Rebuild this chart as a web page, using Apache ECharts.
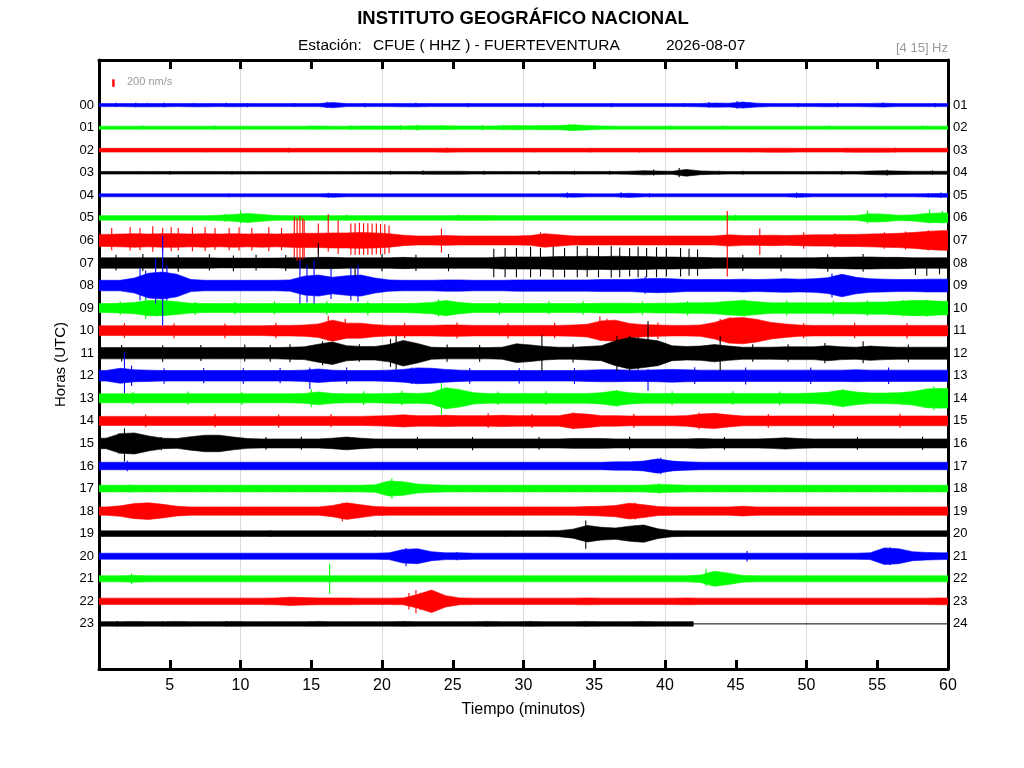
<!DOCTYPE html>
<html><head><meta charset="utf-8">
<script src="https://cdn.jsdelivr.net/npm/echarts@6/dist/echarts.min.js"></script>
<style>html,body{margin:0;padding:0;background:#fff}#c{width:1024px;height:768px}</style>
</head><body><div id="c"></div>
<script>
// ---------- labels ----------
const xTickLabels = ['', '5', '10', '15', '20', '25', '30', '35', '40', '45', '50', '55', '60'];
const hourLabels = ['00','01','02','03','04','05','06','07','08','09','10','11','12','13','14','15','16','17','18','19','20','21','22','23'];
const rightLabels = ['01','02','03','04','05','06','07','08','09','10','11','12','13','14','15','16','17','18','19','20','21','22','23','24'];
const scaleBarNms = 200;      // legend bar value (nm/s)
const rowSpanNms = 600;       // amplitude equal to one row spacing (nm/s)

// ---------- per-minute envelope (half amplitude, nm/s), one array per hour ----------
const env00 = [40,40,45,45,45,40,45,45,40,45, 40,40,40,40,40,40,70,40,40,40, 40,45,45,40,40,40,40,40,40,40, 40,40,40,40,40,40,40,40,40,40, 40,40,45,55,50,80,50,40,40,40, 40,45,40,40,45,50,40,40,40,40];
const env01 = [40,40,40,40,40,40,40,40,40,40, 40,40,40,40,40,45,40,40,45,45, 45,45,50,50,50,45,45,45,50,55, 50,55,55,75,60,45,40,40,40,40, 40,40,40,40,40,40,40,40,40,40, 40,40,40,40,40,40,40,40,40,40];
const env02 = [50,50,50,50,50,50,50,50,50,50, 50,50,50,50,50,50,50,50,50,50, 50,50,50,50,55,50,50,50,50,50, 50,50,50,50,50,50,50,50,50,50, 50,50,50,50,50,50,50,55,55,50, 50,50,50,55,55,55,50,50,50,50];
const env03 = [35,35,35,35,35,35,35,35,35,35, 35,35,35,35,35,35,35,35,35,35, 35,35,35,40,40,40,35,35,35,35, 35,35,35,35,35,35,35,40,55,45, 40,90,50,40,35,35,35,35,35,35, 35,35,35,35,45,55,45,40,40,40];
const env04 = [40,40,40,40,40,40,40,40,40,40, 40,40,40,40,40,40,50,40,40,40, 40,40,40,40,40,40,40,40,40,40, 40,40,40,50,40,40,40,55,40,40, 40,40,40,40,40,40,40,40,40,50, 40,40,40,40,40,40,40,40,45,50];
const env05 = [60,60,60,60,60,60,60,60,70,90, 120,90,65,60,60,60,60,60,60,60, 60,60,60,60,60,65,65,65,60,60, 60,60,60,60,60,60,60,60,60,60, 60,60,60,60,60,60,60,60,60,60, 60,60,60,65,110,100,70,80,120,130];
const env06 = [160,170,180,170,180,180,170,180,170,180, 170,180,170,180,190,190,200,200,210,200, 180,140,120,120,130,120,120,120,120,120, 130,180,150,120,120,120,120,120,120,120, 120,120,120,120,150,130,130,140,130,140, 150,150,160,160,170,180,190,210,240,260];
const env07 = [140,140,140,140,140,140,140,140,130,130, 130,130,130,140,140,150,150,140,140,140, 140,150,140,140,140,140,140,140,160,160, 160,160,170,170,180,170,180,170,170,160, 160,150,150,140,140,140,140,140,140,140, 140,150,150,160,160,150,150,140,140,140];
const env08 = [140,140,200,330,360,300,160,140,140,140, 140,140,140,150,250,280,220,260,280,200, 150,140,140,140,150,150,140,140,140,150, 150,150,150,150,150,160,160,160,180,190, 180,160,160,160,160,170,160,170,180,170, 180,210,300,220,180,170,160,160,170,170];
const env09 = [120,130,150,200,200,170,130,120,120,120, 120,120,120,120,120,120,120,120,120,120, 120,120,130,150,200,150,120,120,120,120, 120,120,120,120,120,130,130,130,120,130, 130,140,140,150,180,200,170,140,140,140, 140,140,150,150,160,160,180,200,200,180];
const env10 = [130,130,130,130,130,130,130,130,130,130, 130,130,140,140,150,180,280,200,200,160, 140,140,140,140,150,150,140,140,140,140, 140,140,140,150,170,260,280,190,160,150, 140,140,150,220,330,350,300,220,180,150, 140,140,140,140,140,140,140,140,140,140];
const env11 = [150,150,150,150,150,150,150,150,150,150, 150,150,150,160,170,240,300,200,180,180, 230,340,260,160,150,150,150,150,160,250, 220,180,160,160,180,200,330,420,380,330, 200,180,190,230,190,160,160,160,170,170, 170,200,170,160,190,170,160,160,160,160];
const env12 = [140,200,160,150,140,140,140,140,140,140, 140,140,140,140,150,180,150,140,140,140, 150,170,210,200,170,150,140,140,140,140, 140,140,140,140,150,160,160,150,150,160, 170,160,150,150,150,150,150,150,150,150, 150,150,150,160,150,150,150,150,150,150];
const env13 = [120,120,120,120,120,120,120,120,120,120, 120,120,120,120,130,170,130,120,120,120, 130,140,130,150,280,230,150,130,130,130, 130,130,130,130,130,150,200,150,130,130, 130,130,130,130,130,130,130,130,130,130, 140,160,220,170,140,140,150,180,250,260];
const env14 = [120,120,120,120,120,120,120,120,120,120, 120,120,120,120,120,120,120,120,120,130, 140,160,140,140,150,140,140,140,150,140, 140,140,140,200,180,140,140,130,130,130, 130,140,180,200,160,130,130,130,130,130, 130,130,130,130,130,130,130,130,130,130];
const env15 = [140,260,280,200,140,130,180,220,220,170, 130,120,120,120,120,120,140,170,140,120, 120,120,120,120,120,120,120,120,120,120, 120,120,120,130,130,130,120,120,120,120, 120,120,130,120,120,120,120,130,150,130, 120,120,120,120,120,120,120,120,120,120];
const env16 = [100,100,100,100,100,100,100,100,100,100, 100,100,100,100,100,100,100,100,100,100, 100,100,100,100,100,100,100,100,100,100, 100,100,100,100,100,100,110,110,130,190, 130,110,100,100,100,100,100,100,100,100, 100,100,100,100,100,100,100,100,100,100];
const env17 = [90,90,90,90,90,90,90,90,90,90, 90,90,90,90,90,90,90,90,90,100, 200,180,120,100,90,90,90,90,90,90, 90,90,90,90,90,90,90,90,90,110, 100,90,90,90,90,90,90,90,90,90, 90,90,90,90,90,90,90,90,90,90];
const env18 = [110,140,200,220,180,130,110,110,110,110, 110,110,110,110,110,110,150,220,170,120, 110,110,110,110,110,110,110,110,110,110, 110,110,110,110,120,130,150,210,170,120, 110,110,110,110,110,130,110,110,110,110, 110,110,110,110,110,110,110,110,110,110];
const env19 = [75,75,75,75,75,75,75,75,75,75, 75,75,75,75,75,75,75,75,75,75, 75,75,75,75,75,75,75,75,75,75, 75,75,80,120,220,170,150,200,230,130, 80,75,75,75,75,75,75,75,75,75, 75,75,75,75,75,75,75,75,75,75];
const env20 = [80,80,80,80,80,80,80,80,80,80, 80,80,80,80,80,80,80,80,80,80, 90,180,200,120,90,90,80,80,80,80, 80,80,80,80,80,80,80,80,80,80, 80,80,80,80,80,80,80,80,80,80, 80,80,80,80,90,220,200,120,100,90];
const env21 = [80,80,90,80,80,80,80,80,80,80, 80,80,80,80,80,80,80,80,80,80, 80,80,80,80,80,80,80,80,80,80, 80,80,80,80,80,80,80,80,80,80, 80,80,100,200,150,90,80,80,80,80, 80,80,80,80,80,80,80,80,80,80];
const env22 = [85,85,85,85,85,85,85,85,85,85, 85,85,90,110,100,90,90,90,85,85, 85,90,180,300,150,90,85,85,85,85, 85,85,85,85,90,85,85,85,85,85, 85,90,85,85,85,85,85,85,85,85, 85,85,85,85,85,85,85,85,85,90];
const env23 = [60,60,65,60,60,65,60,60,60,65, 60,60,60,60,60,65,60,60,60,60, 60,65,60,60,60,60,60,65,60,60, 65,60,60,60,65,60,60,60,65,60, 60,60];

// ---------- isolated spikes [minute, up nm/s, down nm/s] ----------
const spk00 = [[1.2,60,50],[2.6,60,60],[3.4,55,50],[4.6,60,60],[6.7,55,50],[9.0,60,50],[10.5,55,55],[13.8,55,50],[16.1,90,80],[18.8,55,55],[22.4,60,50],[26.1,55,55],[31.4,60,55],[36.2,55,55],[41.3,55,50],[43.1,80,70],[45.1,110,100],[46.0,70,60],[49.4,55,55],[52.2,60,55],[55.4,70,60],[59.1,55,55]];
const spk01 = [[3.1,55,50],[8.2,55,55],[14.9,60,50],[17.8,60,60],[21.3,70,70],[22.5,75,80],[24.2,65,60],[27.1,75,75],[28.6,80,70],[31.3,60,55],[33.2,100,90],[33.7,80,70],[40.4,60,55],[44.1,55,55],[51.6,55,55],[58.2,55,55]];
const spk02 = [[2.1,60,50],[7.6,60,55],[13.4,65,60],[19.9,60,60],[24.6,65,60],[30.8,60,55],[34.7,65,60],[38.2,60,60],[46.1,60,55],[52.8,65,60],[56.3,65,60]];
const spk03 = [[5.0,50,45],[9.4,50,45],[20.6,55,50],[22.9,60,50],[27.2,55,55],[31.1,60,55],[33.6,55,50],[36.1,55,55],[39.2,90,75],[41.0,130,120],[41.6,70,60],[43.8,55,50],[45.5,55,50],[52.5,55,50],[55.7,80,70],[58.9,60,55]];
const spk04 = [[9.2,55,50],[16.2,70,65],[33.1,75,70],[36.9,80,70],[38.9,55,50],[49.3,75,70],[55.6,60,55],[58.6,65,60],[59.5,75,70]];
const spk05 = [[8.9,110,100],[10.0,200,150],[17.5,90,80],[25.4,90,80],[45.0,90,80],[54.3,190,150],[55.1,120,110],[58.7,220,150],[59.6,180,140]];
const spk06 = [[0.9,330,260],[2.2,360,270],[2.9,330,260],[3.8,380,300],[4.5,340,280],[5.1,360,290],[5.6,330,270],[6.6,350,290],[7.5,360,280],[8.2,330,250],[9.2,330,260],[9.9,350,270],[10.8,330,270],[12.0,360,290],[12.9,330,260],[13.8,640,450],[14.0,600,540],[14.2,650,560],[14.4,590,500],[14.5,540,450],[15.5,450,360],[16.2,700,300],[16.9,540,360],[17.8,450,380],[18.1,460,380],[18.4,470,380],[18.7,460,380],[19.0,460,380],[19.3,450,380],[19.6,450,370],[19.9,440,380],[20.2,430,370],[20.5,400,340],[24.2,320,320],[31.2,220,180],[44.4,780,960],[46.7,320,380],[49.8,220,220],[52.0,190,190],[55.5,220,220],[57.0,240,240],[58.6,270,270]];
const spk07 = [[1.2,220,200],[3.1,240,210],[5.6,210,230],[7.8,230,200],[9.5,200,220],[11.1,220,200],[13.2,210,210],[15.5,540,90],[18.1,140,360],[20.0,230,220],[22.4,220,210],[24.7,240,220],[27.9,380,380],[28.7,400,380],[29.5,400,380],[30.5,430,380],[31.2,400,360],[32.1,430,380],[32.9,400,380],[33.8,450,380],[34.5,400,370],[35.3,430,380],[36.2,450,390],[36.8,410,380],[37.5,400,360],[38.1,430,380],[38.7,400,380],[39.4,420,380],[40.1,390,360],[41.1,400,360],[41.7,380,340],[42.3,360,340],[45.5,220,210],[48.2,210,220],[51.5,230,230],[54.0,240,230],[57.7,140,320],[58.5,140,340],[59.4,140,300]];
const spk08 = [[2.9,460,400],[3.3,400,380],[4.0,720,480],[4.5,1330,1060],[4.8,540,400],[14.2,670,480],[14.7,540,450],[15.2,670,480],[16.4,450,360],[17.8,480,400],[18.3,540,430],[38.6,240,220],[51.8,320,320],[52.3,270,270]];
const spk09 = [[1.5,180,190],[3.3,270,290],[4.1,220,220],[6.8,170,180],[9.6,170,170],[12.4,180,170],[16.1,190,180],[19.0,180,190],[24.0,230,220],[28.3,170,180],[31.8,180,170],[34.2,190,180],[38.4,180,190],[41.6,190,200],[44.4,180,180],[45.6,220,220],[48.6,200,200],[51.9,200,200],[54.3,210,210],[56.8,220,220],[58.5,220,230]];
const spk10 = [[1.8,200,190],[5.3,200,200],[8.9,190,200],[12.5,210,200],[16.2,400,270],[17.4,320,220],[21.6,210,200],[25.3,220,210],[28.9,200,210],[32.2,210,200],[35.4,380,270],[35.9,320,270],[39.5,220,220],[43.9,320,300],[44.6,350,320],[45.3,320,300],[49.8,200,200],[53.4,210,200],[57.1,200,210]];
const spk11 = [[1.6,220,220],[4.5,210,230],[7.2,220,210],[10.3,230,220],[12.1,220,230],[13.5,240,240],[15.8,320,320],[16.3,300,270],[18.4,240,230],[20.6,380,360],[21.0,460,430],[24.6,230,230],[26.9,220,230],[29.6,240,220],[31.3,480,480],[33.5,240,250],[36.6,460,480],[37.5,460,480],[38.1,430,430],[38.8,860,350],[43.9,460,480],[46.2,240,230],[48.7,240,230],[51.3,270,270],[54.0,320,270],[57.2,230,240]];
const spk12 = [[1.8,620,460],[2.3,270,270],[4.6,200,210],[7.4,210,200],[10.2,200,210],[12.8,210,200],[14.9,220,350],[17.5,220,210],[22.1,220,220],[26.2,210,210],[29.7,200,210],[33.6,210,220],[38.8,180,400],[42.1,230,220],[45.7,220,230],[50.3,220,220],[55.8,220,220]];
const spk13 = [[2.4,170,170],[6.3,180,170],[10.1,170,180],[15.0,240,240],[18.7,190,180],[21.4,200,190],[24.2,400,430],[24.6,270,270],[28.2,180,180],[31.6,190,180],[36.6,220,220],[40.5,190,190],[44.8,190,180],[48.1,180,190],[52.6,240,240],[59.0,320,320],[59.4,270,270]];
const spk14 = [[3.3,170,170],[8.2,180,170],[12.7,170,180],[16.4,180,170],[21.5,160,160],[24.5,140,140],[27.5,200,190],[30.6,190,190],[33.5,220,220],[37.8,180,180],[42.4,220,220],[47.3,180,180],[51.9,180,190],[56.6,190,180]];
const spk15 = [[1.4,270,270],[1.8,400,480],[4.4,170,180],[8.2,220,220],[11.8,170,170],[14.3,180,170],[17.2,160,160],[22.5,170,170],[26.4,170,180],[31.1,170,170],[37.5,180,170],[44.2,170,170],[53.6,170,170],[58.2,180,170]];
const spk16 = [[2.0,140,140],[39.3,160,160],[39.7,220,220]];
const spk17 = [[2.2,110,110],[20.4,180,180],[20.7,270,270],[39.6,140,140]];
const spk18 = [[3.0,190,190],[17.2,220,270],[37.9,220,220],[45.5,110,110]];
const spk19 = [[12.1,90,90],[19.5,90,90],[28.7,80,80],[34.4,350,400],[37.9,220,220],[38.2,180,180]];
const spk20 = [[21.4,160,160],[21.7,220,270],[25.3,110,110],[45.8,140,140],[55.9,240,240],[56.3,180,180]];
const spk21 = [[2.3,140,140],[16.3,400,400],[42.9,270,190],[43.3,180,180]];
const spk22 = [[13.5,110,110],[21.9,220,220],[22.4,300,320],[22.7,230,230],[41.5,80,80]];
const spk23 = [[1.3,80,70],[4.5,70,70],[9.0,80,70],[15.5,70,60],[21.6,80,70],[27.4,70,70],[30.5,80,70],[34.4,70,70],[38.3,70,60]];

const envelopes = [env00,env01,env02,env03,env04,env05,env06,env07,env08,env09,env10,env11,env12,env13,env14,env15,env16,env17,env18,env19,env20,env21,env22,env23];
const spikes = [spk00,spk01,spk02,spk03,spk04,spk05,spk06,spk07,spk08,spk09,spk10,spk11,spk12,spk13,spk14,spk15,spk16,spk17,spk18,spk19,spk20,spk21,spk22,spk23];
const traceColors = ['#0000ff', '#00ff00', '#ff0000', '#000000'];
const FONT = '"Liberation Sans", Arial, sans-serif';

function renderTrace(params, api) {
  const row = api.value(1);
  const env = envelopes[row];
  const spk = spikes[row];
  const color = traceColors[row % 4];
  const n = env.length;
  const upper = [], lower = [];
  const amp = a => a / rowSpanNms;
  upper.push(api.coord([0, row - amp(env[0])]));
  lower.push(api.coord([0, row + amp(env[0])]));
  for (let i = 0; i < n; i++) {
    upper.push(api.coord([i + 0.5, row - amp(env[i])]));
    lower.push(api.coord([i + 0.5, row + amp(env[i])]));
  }
  upper.push(api.coord([n, row - amp(env[n - 1])]));
  lower.push(api.coord([n, row + amp(env[n - 1])]));
  const children = [{
    type: 'polygon', z2: 1,
    shape: { points: upper.concat(lower.reverse()) },
    style: { fill: color, stroke: color, lineWidth: 0.6 }
  }];
  if (n < 60) {
    const a = api.coord([n, row]), b = api.coord([60, row]);
    children.push({ type: 'line', z2: 1, shape: { x1: a[0], y1: a[1], x2: b[0], y2: b[1] }, style: { stroke: color, lineWidth: 1 } });
  }
  spk.forEach(s => {
    const p1 = api.coord([s[0], row - amp(s[1])]);
    const p2 = api.coord([s[0], row + amp(s[2])]);
    children.push({ type: 'line', z2: 10, shape: { x1: p1[0], y1: p1[1], x2: p2[0], y2: p2[1] }, style: { stroke: color, lineWidth: 1.1 } });
  });
  return { type: 'group', children };
}

function renderScaleBar(params, api) {
  const top = api.coord([1.02, -0.975 - scaleBarNms / rowSpanNms / 2]);
  const bot = api.coord([1.02, -0.975 + scaleBarNms / rowSpanNms / 2]);
  return { type: 'rect', shape: { x: top[0] - 1.2, y: top[1], width: 2.4, height: bot[1] - top[1] }, style: { fill: '#ff0000' } };
}

const rows = hourLabels.map((h, i) => [0, i]);

function txt(x, y, text, font, fill, align) {
  return { type: 'text', x: x, y: y, style: { text: text, font: font, fill: fill, align: align, verticalAlign: 'middle', textAlign: align, textVerticalAlign: 'middle' } };
}

const chart = echarts.init(document.getElementById('c'), null, { renderer: 'canvas' });
chart.setOption({
  animation: false,
  backgroundColor: '#ffffff',
  textStyle: { fontFamily: FONT },
  grid: { left: 99, right: 76, top: 60, height: 609, containLabel: false },
  graphic: [
    txt(523, 19, 'INSTITUTO GEOGRÁFICO NACIONAL', 'bold 18.5px ' + FONT, '#000', 'center'),
    txt(298, 46, 'Estación:', '15.5px ' + FONT, '#000', 'left'),
    txt(373, 46, 'CFUE ( HHZ ) - FUERTEVENTURA', '15.5px ' + FONT, '#000', 'left'),
    txt(666, 46, '2026-08-07', '15.5px ' + FONT, '#000', 'left'),
    txt(948, 48, '[4 15] Hz', '13px ' + FONT, '#9a9a9a', 'right'),
    txt(127, 82, scaleBarNms + ' nm/s', '11px ' + FONT, '#9a9a9a', 'left')
  ],
  xAxis: [
    {
      type: 'value', position: 'bottom', min: 0, max: 60, interval: 5,
      axisLine: { show: true, onZero: false, lineStyle: { color: '#000', width: 3 } },
      axisTick: { show: true, inside: true, length: 9, lineStyle: { color: '#000', width: 3 } },
      axisLabel: { show: true, margin: 9, fontSize: 16, color: '#000', fontFamily: FONT, formatter: v => xTickLabels[Math.round(v / 5)] },
      splitLine: { show: true, lineStyle: { color: ['#dadada', 'rgba(0,0,0,0)'], width: 1 } },
      name: 'Tiempo (minutos)', nameLocation: 'middle', nameGap: 33,
      nameTextStyle: { fontSize: 16, color: '#000', fontFamily: FONT }
    },
    {
      type: 'value', position: 'top', min: 0, max: 60, interval: 5,
      axisLine: { show: true, onZero: false, lineStyle: { color: '#000', width: 3 } },
      axisTick: { show: true, inside: true, length: 9, lineStyle: { color: '#000', width: 3 } },
      axisLabel: { show: false }, splitLine: { show: false }
    }
  ],
  yAxis: [
    {
      type: 'value', position: 'left', inverse: true, min: -2, max: 25, interval: 1,
      axisLine: { show: true, onZero: false, lineStyle: { color: '#000', width: 3 } },
      axisTick: { show: false }, splitLine: { show: false },
      axisLabel: { show: true, margin: 5, fontSize: 13, color: '#000', fontFamily: FONT, formatter: v => hourLabels[Math.round(v)] || '' },
      name: 'Horas (UTC)', nameLocation: 'middle', nameGap: 28,
      nameTextStyle: { fontSize: 15, color: '#000', fontFamily: FONT }
    },
    {
      type: 'value', position: 'right', inverse: true, min: -2, max: 25, interval: 1,
      axisLine: { show: true, onZero: false, lineStyle: { color: '#000', width: 3 } },
      axisTick: { show: false }, splitLine: { show: false },
      axisLabel: { show: true, margin: 5, fontSize: 13, color: '#000', fontFamily: FONT, formatter: v => rightLabels[Math.round(v)] || '' }
    }
  ],
  series: [
    { type: 'custom', name: 'traces', coordinateSystem: 'cartesian2d', xAxisIndex: 0, yAxisIndex: 0, clip: true, encode: { x: 0, y: 1 }, data: rows, renderItem: renderTrace, silent: true },
    { type: 'custom', name: 'scale', coordinateSystem: 'cartesian2d', xAxisIndex: 0, yAxisIndex: 0, encode: { x: 0, y: 1 }, data: [[1.02, -0.975]], renderItem: renderScaleBar, silent: true }
  ]
});
</script></body></html>
